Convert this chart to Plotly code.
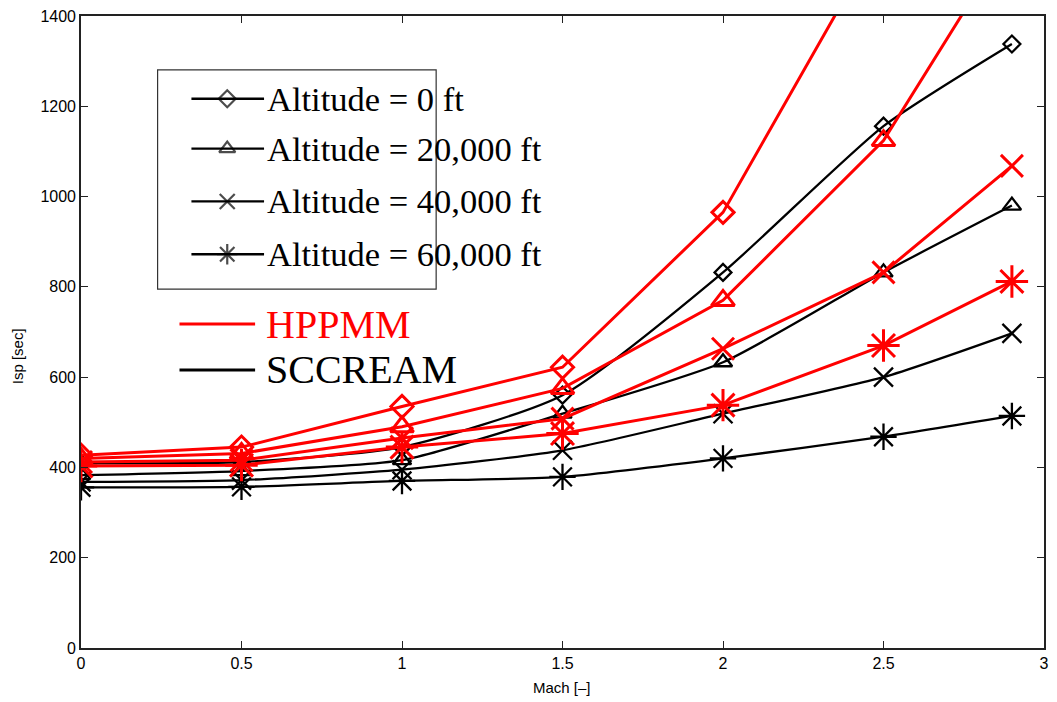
import plotly.graph_objects as go

# Mach numbers at which each engine model was evaluated
mach = [0.0, 0.5, 1.0, 1.5, 2.0, 2.5, 2.9]

# SCCREAM specific impulse [sec] by altitude
sccream_0k = [409, 412, 445, 560, 832, 1156, 1338]
sccream_20k = [383, 392, 416, 519, 633, 832, 980]
sccream_40k = [368, 372, 395, 438, 519, 600, 697]
sccream_60k = [356, 357, 370, 379, 420, 468, 514]

# HPPMM specific impulse [sec] by altitude
hppmm_0k = [427, 445, 535, 622, 965, 1590, 2050]
hppmm_20k = [420, 431, 490, 575, 770, 1124, 1580]
hppmm_40k = [412, 416, 465, 508, 663, 832, 1068]
hppmm_60k = [403, 405, 445, 475, 538, 670, 812]

x_ticks = [0, 0.5, 1, 1.5, 2, 2.5, 3]
x_tick_text = ["0", "0.5", "1", "1.5", "2", "2.5", "3"]
y_ticks = [0, 200, 400, 600, 800, 1000, 1200, 1400]

altitude_labels = ["Altitude = 0 ft", "Altitude = 20,000 ft",
                   "Altitude = 40,000 ft", "Altitude = 60,000 ft"]
model_labels = ["HPPMM", "SCCREAM"]

symbols = ["diamond-open", "triangle-up-open", "x-thin-open", "asterisk-open"]
black_sizes = [13, 16, 19, 22]
red_sizes = [17, 20, 22, 27]
legend_sizes = [13, 14, 15, 17]

W, H = 1057, 702
L, R, T, B = 81, 1049, 14, 648


def fx(p):
    return (p - L) / (R - L)


def fy(p):
    return (B - p) / (B - T)


fig = go.Figure()

for ys, sym, sz in zip([sccream_0k, sccream_20k, sccream_40k, sccream_60k], symbols, black_sizes):
    fig.add_trace(go.Scatter(
        x=mach, y=ys, mode="lines+markers",
        line=dict(color="black", width=2.3, shape="spline", smoothing=0.6),
        marker=dict(symbol=sym, size=sz, color="black", line=dict(color="black", width=2.3)),
        showlegend=False, cliponaxis=True,
    ))

for ys, sym, sz in zip([hppmm_0k, hppmm_20k, hppmm_40k, hppmm_60k], symbols, red_sizes):
    fig.add_trace(go.Scatter(
        x=mach, y=ys, mode="lines+markers",
        line=dict(color="#ff0000", width=3),
        marker=dict(symbol=sym, size=sz, color="#ff0000", line=dict(color="#ff0000", width=3)),
        showlegend=False, cliponaxis=True,
    ))

# Legend box with altitude entries
shapes = [dict(type="rect", xref="paper", yref="paper",
               x0=fx(158), x1=fx(438), y0=fy(288), y1=fy(68),
               line=dict(color="#333333", width=1.2), fillcolor="white", layer="below")]
annotations = []
row_y = [97, 147, 200, 253]
for lab, yy in zip(altitude_labels, row_y):
    shapes.append(dict(type="line", xref="paper", yref="paper",
                       x0=fx(192), x1=fx(265), y0=fy(yy), y1=fy(yy),
                       line=dict(color="black", width=2.4), layer="below"))
    annotations.append(dict(xref="paper", yref="paper", x=fx(266), y=fy(yy),
                            text=lab, showarrow=False, xanchor="left", yanchor="middle",
                            font=dict(family="Liberation Serif", size=34.5, color="black")))

fig.add_trace(go.Scatter(
    x=[fx(228)] * 4, y=[fy(v) for v in row_y], mode="markers",
    marker=dict(symbol=symbols, size=legend_sizes, color="black",
                line=dict(color="black", width=2.2)),
    xaxis="x2", yaxis="y2", showlegend=False, cliponaxis=False, hoverinfo="skip",
))

# Model key
for lab, col, yy in zip(model_labels, ["#ff0000", "black"], [323, 369]):
    shapes.append(dict(type="line", xref="paper", yref="paper",
                       x0=fx(180), x1=fx(256), y0=fy(yy), y1=fy(yy),
                       line=dict(color=col, width=3)))
    annotations.append(dict(xref="paper", yref="paper", x=fx(265), y=fy(yy),
                            text=lab, showarrow=False, xanchor="left", yanchor="middle",
                            font=dict(family="Liberation Serif", size=40, color=col)))

# Axis titles
annotations.append(dict(xref="paper", yref="paper", x=fx(564), y=fy(688),
                        text="Mach [\u2013]", showarrow=False, xanchor="center", yanchor="middle",
                        font=dict(family="Liberation Sans", size=15, color="black")))
annotations.append(dict(xref="paper", yref="paper", x=fx(18), y=fy(355),
                        text="Isp [sec]", showarrow=False, textangle=-90,
                        xanchor="center", yanchor="middle",
                        font=dict(family="Liberation Sans", size=15, color="black")))

axis_common = dict(showline=True, linecolor="#222222", linewidth=1.6, mirror="ticks",
                   ticks="inside", ticklen=7, tickwidth=1.3, tickcolor="#222222",
                   showgrid=False, zeroline=False,
                   tickfont=dict(family="Liberation Sans", size=16, color="black"))

fig.update_layout(
    width=W, height=H,
    margin=dict(l=L, r=W - R, t=T, b=H - B),
    paper_bgcolor="white", plot_bgcolor="white",
    xaxis=dict(range=[0, 3], tickvals=x_ticks, ticktext=x_tick_text, **axis_common),
    yaxis=dict(range=[0, 1400], tickvals=y_ticks, **axis_common),
    xaxis2=dict(overlaying="x", range=[0, 1], visible=False, anchor="y2"),
    yaxis2=dict(overlaying="y", range=[0, 1], visible=False, anchor="x2"),
    shapes=shapes, annotations=annotations,
    showlegend=False,
)

fig.write_html("out.html")
